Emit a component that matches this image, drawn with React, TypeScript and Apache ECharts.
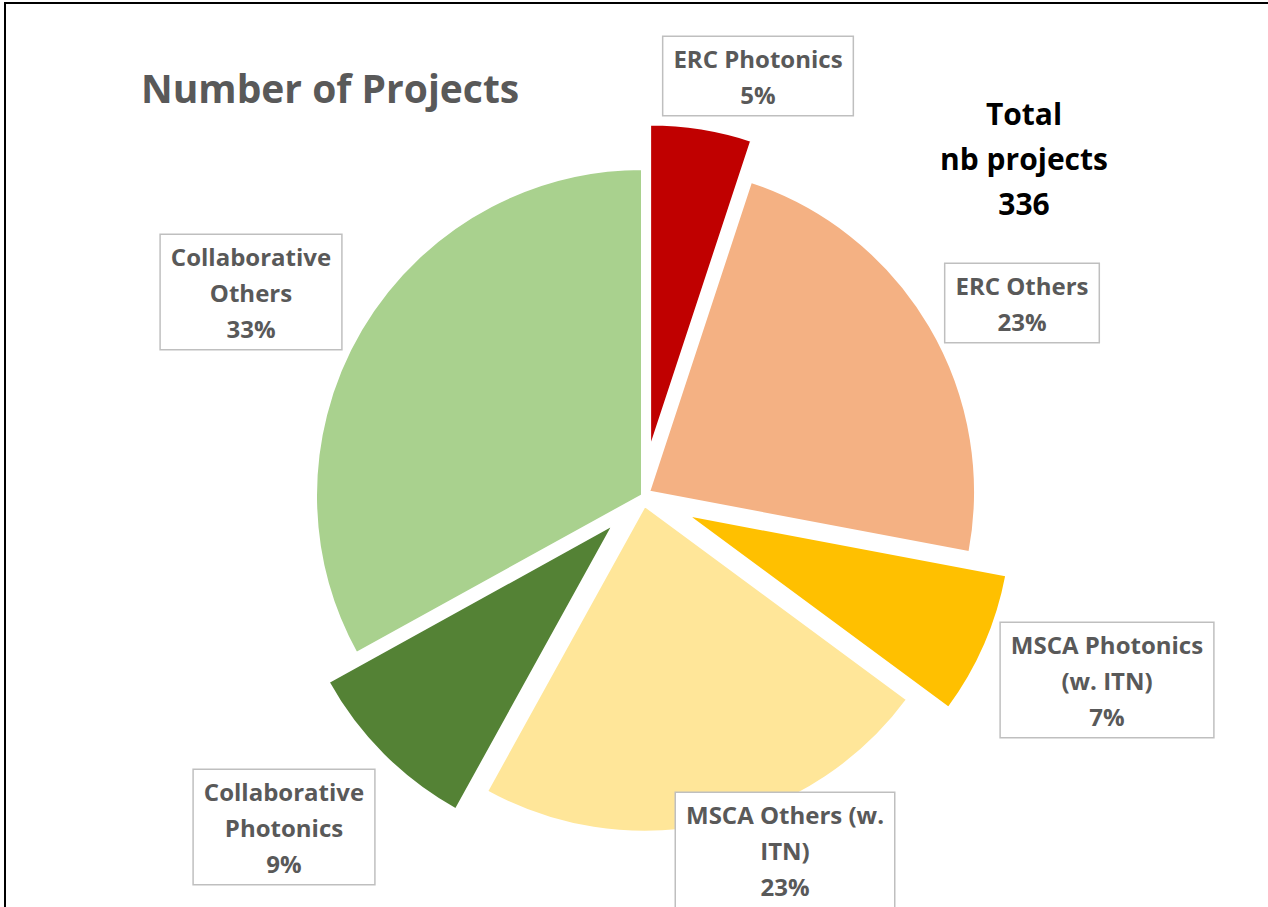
import React, { useEffect, useRef } from "react";
import * as echarts from "echarts";

// ---- data ----
const categories = [
  "ERC Photonics",
  "ERC Others",
  "MSCA Photonics (w. ITN)",
  "MSCA Others (w. ITN)",
  "Collaborative Photonics",
  "Collaborative Others",
];
const projectCounts = [17, 77, 24, 77, 30, 111];
const labelTexts = [
  "ERC Photonics",
  "ERC Others",
  "MSCA Photonics\n(w. ITN)",
  "MSCA Others (w.\nITN)",
  "Collaborative\nPhotonics",
  "Collaborative\nOthers",
];
const titleText = "Number of Projects";
const totalLines = ["Total", "nb projects"];

// ---- styles / layout ----
const sliceColors = ["#C00000", "#F4B183", "#FFC000", "#FFE699", "#548235", "#A9D18E"];
const explodeOffsets = [45, 7, 47, 10, 40, 0];
const labelCenters = [
  [758, 76],
  [1022, 303],
  [1107, 680],
  [785, 850],
  [284, 827],
  [251, 292],
];
const FONT = "'Open Sans', Lato, sans-serif";

export default function App() {
  const ref = useRef<HTMLDivElement>(null);

  useEffect(() => {
    if (!ref.current) return;
    const chart = echarts.init(ref.current, null, { renderer: "svg" });
    const total = projectCounts.reduce((a, b) => a + b, 0);

    const series = categories.map((_, i) => ({
      type: "pie",
      center: [642.5, 495.5],
      radius: 327,
      startAngle: 90,
      clockwise: true,
      silent: true,
      selectedMode: "multiple",
      selectedOffset: explodeOffsets[i],
      avoidLabelOverlap: false,
      label: { show: false },
      labelLine: { show: false },
      data: categories.map((name, j) => ({
        name,
        value: projectCounts[j],
        selected: j === i,
        itemStyle:
          j === i
            ? { color: sliceColors[j], borderColor: "#ffffff", borderWidth: 3 }
            : { color: "rgba(0,0,0,0)", borderWidth: 0 },
      })),
    }));

    const labelGraphics = categories.map((_, i) => ({
      type: "text",
      x: labelCenters[i][0],
      y: labelCenters[i][1],
      z: 10,
      style: {
        text: `${labelTexts[i]}\n${Math.round((projectCounts[i] / total) * 100)}%`,
        fill: "#595959",
        fontFamily: FONT,
        fontWeight: "bold",
        fontSize: 24,
        lineHeight: 36,
        align: "center",
        verticalAlign: "middle",
        backgroundColor: "#ffffff",
        borderColor: "#BFBFBF",
        borderWidth: 1.5,
        padding: [3, 10, 3, 10],
      },
    }));

    chart.setOption({
      animation: false,
      backgroundColor: "#ffffff",
      series,
      graphic: [
        {
          type: "rect",
          shape: { x: 5, y: 3, width: 1400, height: 1100 },
          style: { fill: "none", stroke: "#000000", lineWidth: 2 },
          z: 0,
        },
        {
          type: "text",
          x: 141,
          y: 87,
          style: {
            text: titleText,
            fill: "#595959",
            fontFamily: FONT,
            fontWeight: "bold",
            fontSize: 39,
            align: "left",
            verticalAlign: "middle",
          },
        },
        {
          type: "text",
          x: 1024,
          y: 158,
          style: {
            text: [...totalLines, String(total)].join("\n"),
            fill: "#000000",
            fontFamily: FONT,
            fontWeight: "bold",
            fontSize: 30,
            lineHeight: 45,
            align: "center",
            verticalAlign: "middle",
          },
        },
        ...labelGraphics,
      ],
    });
    return () => chart.dispose();
  }, []);

  return (
    <div
      ref={ref}
      style={{ position: "fixed", left: 0, top: 0, width: 1268, height: 907 }}
    />
  );
}
